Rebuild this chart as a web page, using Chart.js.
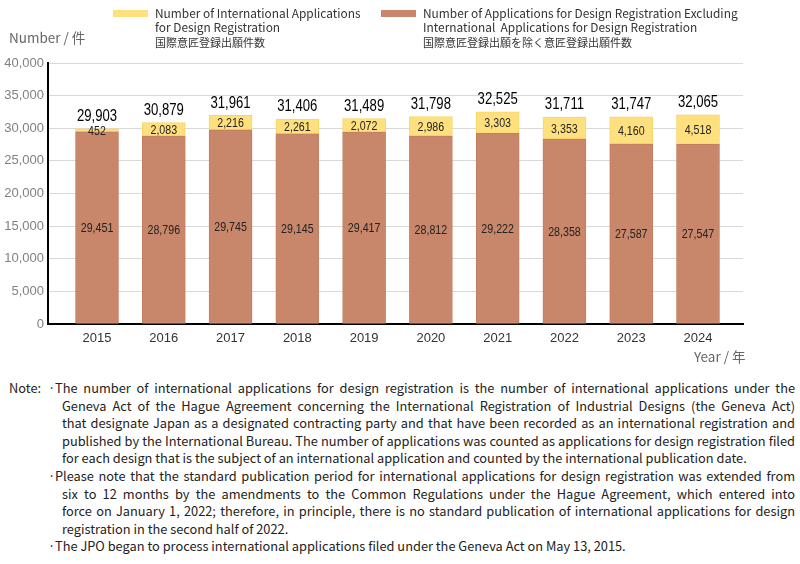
<!DOCTYPE html>
<html lang="en">
<head>
  <meta charset="UTF-8">
  <title>Design applications</title>
  <script src="https://cdn.jsdelivr.net/npm/chart.js"></script>
  <style>
    body { margin: 0; background: #fff; }
    #page { position: relative; width: 800px; height: 564px; overflow: hidden; font-family: "Noto Sans CJK JP", "Noto Sans", sans-serif; color: #222; }
    #chartBox { position: absolute; left: 0; top: 0; width: 800px; height: 370px; }
    .abs { position: absolute; white-space: nowrap; }
    .swatch { position: absolute; width: 35px; height: 7px; }
    .leg { position: absolute; font-size: 11.9px; line-height: 13.5px; color: #333; }
    .leg .jp { display: block; margin-top: 3px; font-size: 11px; }
    .line { position: absolute; font-size: 12.8px; line-height: 17.6px; height: 17.6px; text-align: justify; text-align-last: justify; white-space: nowrap; }
    .line.last { text-align-last: left; }
  </style>
</head>
<body>
<div id="page">
  <div id="chartBox"><canvas id="designChart"></canvas></div>

  <div class="swatch" style="left:113px; top:10px; background:#FFE07E;"></div>
  <div class="leg" style="left:155px; top:6px;">Number of International Applications<br>for Design Registration<span class="jp">国際意匠登録出願件数</span></div>
  <div class="swatch" style="left:381px; top:10px; background:#C8876A;"></div>
  <div class="leg" style="left:423px; top:6px;">Number of Applications for Design Registration Excluding<br>International&nbsp; Applications for Design Registration<span class="jp">国際意匠登録出願を除く意匠登録出願件数</span></div>

  <div class="abs" style="left:9px; top:27px; font-size:13.5px; color:#666;">Number / 件</div>
  <div class="abs" style="left:694px; top:346px; font-size:13.5px; color:#666;">Year / 年</div>

  <div class="abs" style="left:9px; top:379px; font-size:12.8px; line-height:17.6px;">Note:</div>
  <div id="notes"></div>
</div>
<script>
const years = [2015, 2016, 2017, 2018, 2019, 2020, 2021, 2022, 2023, 2024];
const intlApps = [452, 2083, 2216, 2261, 2072, 2986, 3303, 3353, 4160, 4518];
const otherApps = [29451, 28796, 29745, 29145, 29417, 28812, 29222, 28358, 27587, 27547];
const yTicks = [0, 5000, 10000, 15000, 20000, 25000, 30000, 35000, 40000];

// note lines, broken as in the original
const noteLines = [
  ['b', 'The number of  international applications for design registration is the number of international applications under the'],
  ['c', 'Geneva Act of the Hague Agreement concerning the International Registration of Industrial Designs (the Geneva Act)'],
  ['c', 'that designate Japan as a designated contracting party and that have been recorded as an international registration and'],
  ['c', 'published by the International Bureau. The number of applications was counted as applications for design registration filed'],
  ['c', 'for each design that is the subject of an international application and counted by the international publication date.', true],
  ['b', 'Please note that the standard publication period for international applications for design registration was extended from'],
  ['c', 'six to 12 months by the amendments to the Common Regulations under the Hague Agreement, which entered into'],
  ['c', 'force on January 1, 2022; therefore, in principle, there is no standard publication of international applications for design'],
  ['c', 'registration in the second half of 2022.', true],
  ['b', 'The JPO began to process international applications filed under the Geneva Act on May 13, 2015.', true]
];

const notes = document.getElementById('notes');
noteLines.forEach((ln, i) => {
  const top = 379 + i * 17.6;
  const left = ln[0] === 'b' ? 55 : 62;
  if (ln[0] === 'b') {
    const dot = document.createElement('div');
    dot.className = 'abs';
    dot.style.cssText = 'left:48px; top:' + top + 'px; font-size:13px; line-height:17.6px;';
    dot.textContent = '·';
    notes.appendChild(dot);
  }
  const d = document.createElement('div');
  d.className = 'line' + (ln[2] ? ' last' : '');
  d.style.left = left + 'px';
  d.style.top = top + 'px';
  d.style.width = (795 - left) + 'px';
  d.textContent = ln[1];
  notes.appendChild(d);
});

const sans = '"Liberation Sans", Arial, sans-serif';

// narrow-looking text: regular Liberation Sans squeezed horizontally
function narrowText(ctx, txt, x, y, size) {
  ctx.save();
  ctx.font = size + 'px ' + sans;
  ctx.translate(x, y);
  ctx.scale(0.82, 1);
  ctx.fillText(txt, 0, 0);
  ctx.restore();
}

const barLabels = {
  id: 'barLabels',
  afterDatasetsDraw(chart) {
    const ctx = chart.ctx;
    ctx.save();
    ctx.textAlign = 'center';
    chart.data.datasets.forEach((ds, di) => {
      chart.getDatasetMeta(di).data.forEach((bar, i) => {
        ctx.fillStyle = '#222';
        ctx.textBaseline = 'middle';
        narrowText(ctx, ds.raw[i].toLocaleString('en-US'), bar.x, (bar.y + bar.base) / 2 + 1, 13);
        if (di === 1) {
          ctx.fillStyle = '#000';
          ctx.textBaseline = 'bottom';
          narrowText(ctx, (intlApps[i] + otherApps[i]).toLocaleString('en-US'), bar.x, bar.y - 4, 16);
        }
      });
    });
    ctx.restore();
  }
};

new Chart(document.getElementById('designChart'), {
  type: 'bar',
  data: {
    datasets: [{
      label: 'Other',
      raw: otherApps,
      data: years.map((y, i) => ({ x: y, y: otherApps[i] })),
      backgroundColor: '#C8876A',
      borderColor: '#C47E5F',
      borderWidth: 1,
      borderSkipped: false
    }, {
      label: 'International',
      raw: intlApps,
      data: years.map((y, i) => ({ x: y, y: intlApps[i] })),
      backgroundColor: '#FFE07E',
      borderColor: '#F7D467',
      borderWidth: 1,
      borderSkipped: false
    }]
  },
  options: {
    responsive: true,
    maintainAspectRatio: false,
    animation: false,
    barThickness: 43,
    layout: { padding: { left: 0, right: 57, top: 63, bottom: 0 } },
    plugins: { legend: { display: false }, tooltip: { enabled: false } },
    scales: {
      x: {
        type: 'linear',
        offset: false,
        stacked: true,
        min: 2014.266,
        max: 2024.674,
        afterFit: s => { s.height = 46; },
        ticks: {
          stepSize: 1,
          includeBounds: false,
          color: '#333',
          padding: 7,
          font: { family: sans, size: 13 },
          callback: v => String(v)
        },
        grid: { display: false, drawTicks: false },
        border: { color: '#000', width: 2 }
      },
      y: {
        stacked: true,
        min: 0,
        max: 40000,
        afterFit: s => { s.width = 48; },
        afterBuildTicks: s => { s.ticks = yTicks.map(v => ({ value: v })); },
        ticks: {
          color: '#808080',
          padding: 4,
          font: { family: sans, size: 13 },
          callback: v => v.toLocaleString('en-US')
        },
        grid: { color: '#D9D9D9', drawTicks: false },
        border: { color: '#000', width: 2 }
      }
    }
  },
  plugins: [barLabels]
});
</script>
</body>
</html>
